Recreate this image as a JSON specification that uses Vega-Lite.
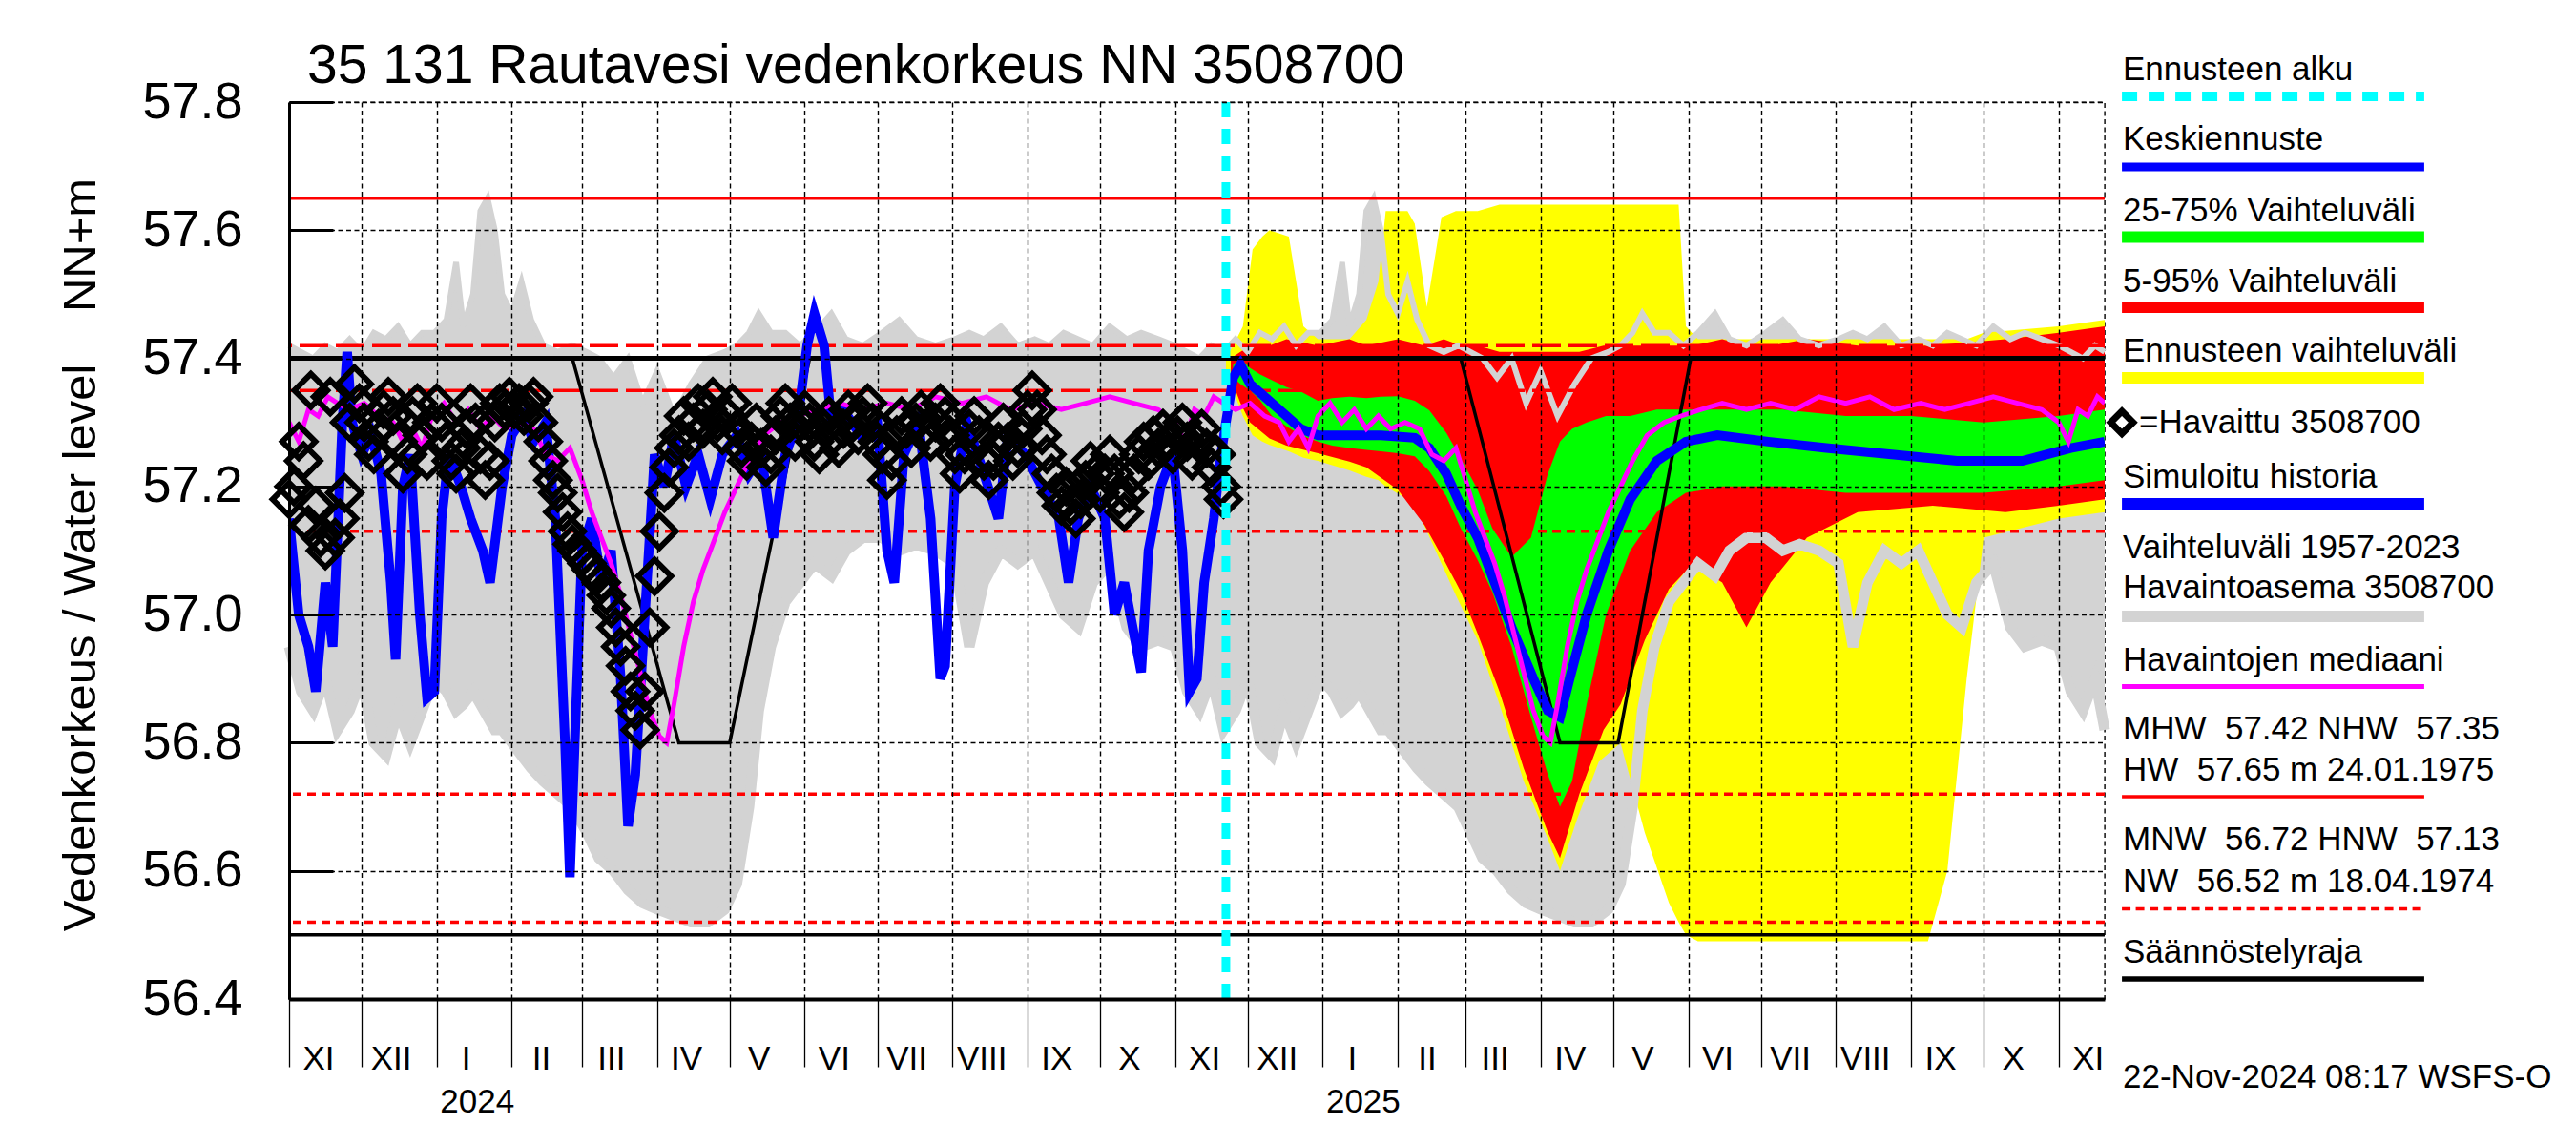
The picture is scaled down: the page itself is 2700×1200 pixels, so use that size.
{
"$schema": "https://vega.github.io/schema/vega-lite/v6.json",
"width": 1903, "height": 940,
"autosize": {"type": "none"},
"padding": {"left": 303, "top": 107, "right": 494, "bottom": 153},
"background": "white",
"title": {"text": "35 131 Rautavesi vedenkorkeus NN 3508700", "anchor": "start", "frame": "group", "fontSize": 57, "fontWeight": "normal", "dx": 19, "offset": -88, "baseline": "alphabetic", "color": "black"},
"config": {"font": "Liberation Sans", "view": {"stroke": "black", "strokeDash": [5, 3.5], "strokeWidth": 1.4}},
"datasets": {
"grey": [
{"d":"2023-11-01","lo":56.95,"hi":57.42},{"d":"2023-11-06","lo":56.88,"hi":57.41},{"d":"2023-11-11","lo":56.85,"hi":57.40},{"d":"2023-11-16","lo":56.90,"hi":57.42},{"d":"2023-11-21","lo":56.82,"hi":57.41},{"d":"2023-11-26","lo":56.85,"hi":57.43},
{"d":"2023-12-01","lo":56.90,"hi":57.41},{"d":"2023-12-06","lo":56.80,"hi":57.44},{"d":"2023-12-11","lo":56.78,"hi":57.43},{"d":"2023-12-16","lo":56.85,"hi":57.45},{"d":"2023-12-21","lo":56.80,"hi":57.42},{"d":"2023-12-26","lo":56.85,"hi":57.44},{"d":"2023-12-31","lo":56.90,"hi":57.44},
{"d":"2024-01-05","lo":56.88,"hi":57.46},{"d":"2024-01-09","lo":56.85,"hi":57.55},{"d":"2024-01-12","lo":56.86,"hi":57.45},{"d":"2024-01-16","lo":56.88,"hi":57.50},{"d":"2024-01-19","lo":56.86,"hi":57.63},{"d":"2024-01-22","lo":56.84,"hi":57.65},{"d":"2024-01-25","lo":56.82,"hi":57.60},{"d":"2024-01-28","lo":56.82,"hi":57.50},
{"d":"2024-02-01","lo":56.80,"hi":57.47},{"d":"2024-02-05","lo":56.78,"hi":57.52},{"d":"2024-02-09","lo":56.76,"hi":57.46},{"d":"2024-02-14","lo":56.74,"hi":57.42},{"d":"2024-02-20","lo":56.72,"hi":57.41},{"d":"2024-02-26","lo":56.70,"hi":57.42},
{"d":"2024-03-03","lo":56.66,"hi":57.41},{"d":"2024-03-08","lo":56.62,"hi":57.40},{"d":"2024-03-14","lo":56.60,"hi":57.37},{"d":"2024-03-20","lo":56.57,"hi":57.40},{"d":"2024-03-26","lo":56.55,"hi":57.33},
{"d":"2024-04-01","lo":56.54,"hi":57.38},{"d":"2024-04-08","lo":56.53,"hi":57.31},{"d":"2024-04-15","lo":56.52,"hi":57.36},{"d":"2024-04-22","lo":56.52,"hi":57.40},{"d":"2024-04-29","lo":56.54,"hi":57.41},
{"d":"2024-05-04","lo":56.58,"hi":57.42},{"d":"2024-05-09","lo":56.70,"hi":57.44},{"d":"2024-05-13","lo":56.85,"hi":57.47},{"d":"2024-05-18","lo":56.95,"hi":57.44},{"d":"2024-05-24","lo":57.02,"hi":57.44},{"d":"2024-05-30","lo":57.05,"hi":57.42},
{"d":"2024-06-05","lo":57.08,"hi":57.44},{"d":"2024-06-12","lo":57.06,"hi":57.47},{"d":"2024-06-18","lo":57.10,"hi":57.43},{"d":"2024-06-25","lo":57.12,"hi":57.42},
{"d":"2024-07-03","lo":57.12,"hi":57.44},{"d":"2024-07-10","lo":57.10,"hi":57.46},{"d":"2024-07-17","lo":57.11,"hi":57.43},{"d":"2024-07-25","lo":57.10,"hi":57.42},
{"d":"2024-08-02","lo":57.08,"hi":57.43},{"d":"2024-08-08","lo":56.95,"hi":57.44},{"d":"2024-08-14","lo":57.05,"hi":57.43},{"d":"2024-08-21","lo":57.10,"hi":57.45},{"d":"2024-08-28","lo":57.08,"hi":57.42},
{"d":"2024-09-04","lo":57.10,"hi":57.43},{"d":"2024-09-10","lo":57.05,"hi":57.42},{"d":"2024-09-16","lo":57.00,"hi":57.44},{"d":"2024-09-22","lo":56.98,"hi":57.43},{"d":"2024-09-28","lo":57.05,"hi":57.42},
{"d":"2024-10-05","lo":57.08,"hi":57.45},{"d":"2024-10-12","lo":56.98,"hi":57.43},{"d":"2024-10-18","lo":56.95,"hi":57.44},{"d":"2024-10-25","lo":56.96,"hi":57.43},
{"d":"2024-11-01","lo":56.95,"hi":57.42},{"d":"2024-11-06","lo":56.88,"hi":57.41},{"d":"2024-11-11","lo":56.85,"hi":57.40},{"d":"2024-11-16","lo":56.90,"hi":57.42},{"d":"2024-11-21","lo":56.82,"hi":57.41},{"d":"2024-11-26","lo":56.85,"hi":57.43},
{"d":"2024-12-01","lo":56.90,"hi":57.41},{"d":"2024-12-06","lo":56.80,"hi":57.44},{"d":"2024-12-11","lo":56.78,"hi":57.43},{"d":"2024-12-16","lo":56.85,"hi":57.45},{"d":"2024-12-21","lo":56.80,"hi":57.42},{"d":"2024-12-26","lo":56.85,"hi":57.44},{"d":"2024-12-31","lo":56.90,"hi":57.44},
{"d":"2025-01-05","lo":56.88,"hi":57.46},{"d":"2025-01-09","lo":56.85,"hi":57.55},{"d":"2025-01-12","lo":56.86,"hi":57.45},{"d":"2025-01-16","lo":56.88,"hi":57.50},{"d":"2025-01-19","lo":56.86,"hi":57.63},{"d":"2025-01-22","lo":56.84,"hi":57.65},{"d":"2025-01-25","lo":56.82,"hi":57.60},{"d":"2025-01-28","lo":56.82,"hi":57.50},
{"d":"2025-02-01","lo":56.80,"hi":57.47},{"d":"2025-02-05","lo":56.78,"hi":57.52},{"d":"2025-02-09","lo":56.76,"hi":57.46},{"d":"2025-02-14","lo":56.74,"hi":57.42},{"d":"2025-02-20","lo":56.72,"hi":57.41},{"d":"2025-02-26","lo":56.70,"hi":57.42},
{"d":"2025-03-03","lo":56.66,"hi":57.41},{"d":"2025-03-08","lo":56.62,"hi":57.40},{"d":"2025-03-14","lo":56.60,"hi":57.37},{"d":"2025-03-20","lo":56.57,"hi":57.40},{"d":"2025-03-26","lo":56.55,"hi":57.33},
{"d":"2025-04-01","lo":56.54,"hi":57.38},{"d":"2025-04-08","lo":56.53,"hi":57.31},{"d":"2025-04-15","lo":56.52,"hi":57.36},{"d":"2025-04-22","lo":56.52,"hi":57.40},{"d":"2025-04-29","lo":56.54,"hi":57.41},
{"d":"2025-05-04","lo":56.58,"hi":57.42},{"d":"2025-05-09","lo":56.70,"hi":57.44},{"d":"2025-05-13","lo":56.85,"hi":57.47},{"d":"2025-05-18","lo":56.95,"hi":57.44},{"d":"2025-05-24","lo":57.02,"hi":57.44},{"d":"2025-05-30","lo":57.05,"hi":57.42},
{"d":"2025-06-05","lo":57.08,"hi":57.44},{"d":"2025-06-12","lo":57.06,"hi":57.47},{"d":"2025-06-18","lo":57.10,"hi":57.43},{"d":"2025-06-25","lo":57.12,"hi":57.42},
{"d":"2025-07-03","lo":57.12,"hi":57.44},{"d":"2025-07-10","lo":57.10,"hi":57.46},{"d":"2025-07-17","lo":57.11,"hi":57.43},{"d":"2025-07-25","lo":57.10,"hi":57.42},
{"d":"2025-08-02","lo":57.08,"hi":57.43},{"d":"2025-08-08","lo":56.95,"hi":57.44},{"d":"2025-08-14","lo":57.05,"hi":57.43},{"d":"2025-08-21","lo":57.10,"hi":57.45},{"d":"2025-08-28","lo":57.08,"hi":57.42},
{"d":"2025-09-04","lo":57.10,"hi":57.43},{"d":"2025-09-10","lo":57.05,"hi":57.42},{"d":"2025-09-16","lo":57.00,"hi":57.44},{"d":"2025-09-22","lo":56.98,"hi":57.43},{"d":"2025-09-28","lo":57.05,"hi":57.42},
{"d":"2025-10-05","lo":57.08,"hi":57.45},{"d":"2025-10-12","lo":56.98,"hi":57.43},{"d":"2025-10-18","lo":56.95,"hi":57.44},{"d":"2025-10-25","lo":56.96,"hi":57.43},
{"d":"2025-11-01","lo":56.95,"hi":57.42},{"d":"2025-11-06","lo":56.88,"hi":57.41},{"d":"2025-11-11","lo":56.85,"hi":57.40},{"d":"2025-11-16","lo":56.90,"hi":57.42},{"d":"2025-11-20","lo":56.82,"hi":57.41}
],
"yellow": [
{"d":"2024-11-22","lo":57.38,"hi":57.40},{"d":"2024-11-25","lo":57.35,"hi":57.42},{"d":"2024-11-29","lo":57.31,"hi":57.45},{"d":"2024-12-03","lo":57.28,"hi":57.57},{"d":"2024-12-07","lo":57.27,"hi":57.59},{"d":"2024-12-10","lo":57.265,"hi":57.60},{"d":"2024-12-18","lo":57.255,"hi":57.59},{"d":"2024-12-24","lo":57.245,"hi":57.45},{"d":"2024-12-30","lo":57.24,"hi":57.43},
{"d":"2025-01-12","lo":57.225,"hi":57.43},{"d":"2025-01-19","lo":57.215,"hi":57.46},{"d":"2025-01-24","lo":57.21,"hi":57.52},{"d":"2025-01-27","lo":57.20,"hi":57.63},{"d":"2025-02-05","lo":57.18,"hi":57.63},{"d":"2025-02-08","lo":57.17,"hi":57.61},{"d":"2025-02-13","lo":57.13,"hi":57.48},{"d":"2025-02-19","lo":57.08,"hi":57.62},{"d":"2025-02-25","lo":57.03,"hi":57.63},
{"d":"2025-03-06","lo":56.96,"hi":57.63},{"d":"2025-03-15","lo":56.86,"hi":57.64},{"d":"2025-03-25","lo":56.74,"hi":57.64},{"d":"2025-04-04","lo":56.65,"hi":57.64},{"d":"2025-04-09","lo":56.60,"hi":57.64},{"d":"2025-04-16","lo":56.68,"hi":57.64},{"d":"2025-04-25","lo":56.77,"hi":57.64},{"d":"2025-05-04","lo":56.80,"hi":57.64},{"d":"2025-05-14","lo":56.66,"hi":57.64},{"d":"2025-05-24","lo":56.55,"hi":57.64},{"d":"2025-05-28","lo":56.52,"hi":57.64},{"d":"2025-05-31","lo":56.50,"hi":57.45},{"d":"2025-06-05","lo":56.49,"hi":57.43},
{"d":"2025-09-08","lo":56.49,"hi":57.43},{"d":"2025-09-16","lo":56.60,"hi":57.43},{"d":"2025-09-24","lo":56.90,"hi":57.43},{"d":"2025-10-01","lo":57.12,"hi":57.44},{"d":"2025-11-01","lo":57.15,"hi":57.45},{"d":"2025-11-20","lo":57.16,"hi":57.46}
],
"red": [
{"d":"2024-11-24","lo":57.37,"hi":57.40},{"d":"2024-11-28","lo":57.33,"hi":57.41},{"d":"2024-12-02","lo":57.30,"hi":57.42},{"d":"2024-12-10","lo":57.275,"hi":57.42},{"d":"2024-12-17","lo":57.264,"hi":57.43},{"d":"2024-12-30","lo":57.252,"hi":57.42},
{"d":"2025-01-12","lo":57.239,"hi":57.43},{"d":"2025-01-19","lo":57.23,"hi":57.42},{"d":"2025-02-01","lo":57.195,"hi":57.43},{"d":"2025-02-12","lo":57.14,"hi":57.42},{"d":"2025-02-20","lo":57.086,"hi":57.43},{"d":"2025-02-27","lo":57.036,"hi":57.42},
{"d":"2025-03-06","lo":56.97,"hi":57.42},{"d":"2025-03-15","lo":56.88,"hi":57.41},{"d":"2025-03-25","lo":56.76,"hi":57.41},{"d":"2025-04-04","lo":56.66,"hi":57.41},{"d":"2025-04-09","lo":56.62,"hi":57.41},{"d":"2025-04-17","lo":56.72,"hi":57.41},{"d":"2025-04-27","lo":56.82,"hi":57.42},{"d":"2025-05-04","lo":56.86,"hi":57.42},
{"d":"2025-05-14","lo":56.96,"hi":57.42},{"d":"2025-05-24","lo":57.04,"hi":57.42},{"d":"2025-06-03","lo":57.08,"hi":57.42},{"d":"2025-06-15","lo":57.05,"hi":57.43},{"d":"2025-06-25","lo":56.98,"hi":57.42},{"d":"2025-07-05","lo":57.05,"hi":57.42},{"d":"2025-07-20","lo":57.12,"hi":57.43},
{"d":"2025-08-10","lo":57.16,"hi":57.42},{"d":"2025-09-10","lo":57.17,"hi":57.42},{"d":"2025-10-10","lo":57.16,"hi":57.43},{"d":"2025-11-01","lo":57.17,"hi":57.44},{"d":"2025-11-20","lo":57.18,"hi":57.45}
],
"green": [
{"d":"2024-11-25","lo":57.37,"hi":57.39},{"d":"2024-11-28","lo":57.36,"hi":57.40},{"d":"2024-12-02","lo":57.35,"hi":57.385},{"d":"2024-12-06","lo":57.335,"hi":57.375},{"d":"2024-12-11","lo":57.31,"hi":57.366},{"d":"2024-12-17","lo":57.294,"hi":57.355},{"d":"2024-12-23","lo":57.28,"hi":57.348},{"d":"2024-12-30","lo":57.27,"hi":57.334},
{"d":"2025-01-05","lo":57.264,"hi":57.338},{"d":"2025-01-12","lo":57.26,"hi":57.34},{"d":"2025-01-19","lo":57.257,"hi":57.338},{"d":"2025-01-25","lo":57.255,"hi":57.34},{"d":"2025-02-01","lo":57.252,"hi":57.341},{"d":"2025-02-08","lo":57.247,"hi":57.334},{"d":"2025-02-14","lo":57.224,"hi":57.319},{"d":"2025-02-21","lo":57.185,"hi":57.284},{"d":"2025-02-27","lo":57.135,"hi":57.244},
{"d":"2025-03-06","lo":57.085,"hi":57.195},{"d":"2025-03-12","lo":57.036,"hi":57.135},{"d":"2025-03-20","lo":56.95,"hi":57.09},{"d":"2025-03-28","lo":56.84,"hi":57.12},{"d":"2025-04-04","lo":56.75,"hi":57.22},{"d":"2025-04-09","lo":56.70,"hi":57.27},{"d":"2025-04-14","lo":56.74,"hi":57.29},{"d":"2025-04-20","lo":56.86,"hi":57.30},{"d":"2025-04-28","lo":57.00,"hi":57.31},
{"d":"2025-05-08","lo":57.10,"hi":57.31},{"d":"2025-05-19","lo":57.16,"hi":57.32},{"d":"2025-05-31","lo":57.19,"hi":57.32},{"d":"2025-06-15","lo":57.20,"hi":57.32},{"d":"2025-07-10","lo":57.20,"hi":57.32},{"d":"2025-08-05","lo":57.19,"hi":57.31},{"d":"2025-09-01","lo":57.19,"hi":57.31},{"d":"2025-10-01","lo":57.19,"hi":57.30},{"d":"2025-11-01","lo":57.20,"hi":57.31},{"d":"2025-11-20","lo":57.21,"hi":57.32}
],
"blue": [
{"d":"2023-11-01","v":57.15},{"d":"2023-11-05","v":57.00},{"d":"2023-11-09","v":56.95},{"d":"2023-11-12","v":56.88},{"d":"2023-11-16","v":57.05},{"d":"2023-11-19","v":56.95},{"d":"2023-11-23","v":57.30},{"d":"2023-11-25","v":57.41},{"d":"2023-11-27","v":57.30},
{"d":"2023-12-01","v":57.25},{"d":"2023-12-05","v":57.28},{"d":"2023-12-09","v":57.22},{"d":"2023-12-13","v":57.05},{"d":"2023-12-15","v":56.93},{"d":"2023-12-18","v":57.20},{"d":"2023-12-21","v":57.25},{"d":"2023-12-25","v":57.00},{"d":"2023-12-28","v":56.87},{"d":"2023-12-31","v":56.88},
{"d":"2024-01-03","v":57.15},{"d":"2024-01-06","v":57.25},{"d":"2024-01-11","v":57.20},{"d":"2024-01-15","v":57.15},{"d":"2024-01-20","v":57.10},{"d":"2024-01-23","v":57.05},{"d":"2024-01-28","v":57.20},
{"d":"2024-02-01","v":57.28},{"d":"2024-02-06","v":57.31},{"d":"2024-02-10","v":57.27},{"d":"2024-02-15","v":57.30},{"d":"2024-02-19","v":57.15},{"d":"2024-02-23","v":56.80},{"d":"2024-02-25","v":56.59},{"d":"2024-02-27","v":56.80},
{"d":"2024-03-01","v":57.10},{"d":"2024-03-05","v":57.15},{"d":"2024-03-09","v":57.05},{"d":"2024-03-13","v":57.10},{"d":"2024-03-17","v":56.90},{"d":"2024-03-20","v":56.67},{"d":"2024-03-23","v":56.75},{"d":"2024-03-27","v":57.00},{"d":"2024-03-31","v":57.25},
{"d":"2024-04-04","v":57.20},{"d":"2024-04-08","v":57.28},{"d":"2024-04-13","v":57.20},{"d":"2024-04-18","v":57.25},{"d":"2024-04-23","v":57.18},{"d":"2024-04-28","v":57.25},
{"d":"2024-05-04","v":57.28},{"d":"2024-05-09","v":57.22},{"d":"2024-05-14","v":57.25},{"d":"2024-05-19","v":57.12},{"d":"2024-05-24","v":57.25},{"d":"2024-05-29","v":57.30},
{"d":"2024-06-02","v":57.42},{"d":"2024-06-05","v":57.47},{"d":"2024-06-09","v":57.42},{"d":"2024-06-12","v":57.30},{"d":"2024-06-17","v":57.32},{"d":"2024-06-24","v":57.28},
{"d":"2024-07-01","v":57.30},{"d":"2024-07-05","v":57.10},{"d":"2024-07-08","v":57.05},{"d":"2024-07-12","v":57.25},{"d":"2024-07-18","v":57.30},{"d":"2024-07-23","v":57.15},{"d":"2024-07-27","v":56.90},{"d":"2024-07-29","v":56.92},
{"d":"2024-08-02","v":57.20},{"d":"2024-08-07","v":57.30},{"d":"2024-08-14","v":57.22},{"d":"2024-08-20","v":57.15},{"d":"2024-08-24","v":57.28},{"d":"2024-08-31","v":57.25},
{"d":"2024-09-07","v":57.20},{"d":"2024-09-14","v":57.15},{"d":"2024-09-18","v":57.05},{"d":"2024-09-22","v":57.15},{"d":"2024-09-27","v":57.20},
{"d":"2024-10-03","v":57.15},{"d":"2024-10-07","v":57.00},{"d":"2024-10-11","v":57.05},{"d":"2024-10-16","v":56.95},{"d":"2024-10-18","v":56.91},{"d":"2024-10-21","v":57.10},{"d":"2024-10-26","v":57.20},{"d":"2024-10-31","v":57.25},
{"d":"2024-11-04","v":57.10},{"d":"2024-11-07","v":56.88},{"d":"2024-11-10","v":56.90},{"d":"2024-11-13","v":57.05},{"d":"2024-11-17","v":57.15},{"d":"2024-11-20","v":57.25},{"d":"2024-11-22","v":57.30},{"d":"2024-11-25","v":57.37},{"d":"2024-11-28","v":57.39},
{"d":"2024-12-02","v":57.36},{"d":"2024-12-11","v":57.33},{"d":"2024-12-17","v":57.31},{"d":"2024-12-23","v":57.29},{"d":"2024-12-30","v":57.28},
{"d":"2025-01-12","v":57.28},{"d":"2025-01-25","v":57.28},{"d":"2025-02-08","v":57.276},{"d":"2025-02-14","v":57.26},{"d":"2025-02-21","v":57.22},{"d":"2025-02-27","v":57.17},
{"d":"2025-03-06","v":57.12},{"d":"2025-03-12","v":57.06},{"d":"2025-03-20","v":56.98},{"d":"2025-03-29","v":56.90},{"d":"2025-04-04","v":56.85},{"d":"2025-04-09","v":56.84},{"d":"2025-04-13","v":56.90},{"d":"2025-04-20","v":57.00},{"d":"2025-04-29","v":57.10},
{"d":"2025-05-08","v":57.18},{"d":"2025-05-19","v":57.24},{"d":"2025-05-31","v":57.27},{"d":"2025-06-13","v":57.28},{"d":"2025-07-04","v":57.27},{"d":"2025-07-28","v":57.26},{"d":"2025-08-24","v":57.25},{"d":"2025-09-20","v":57.24},{"d":"2025-10-17","v":57.24},{"d":"2025-11-06","v":57.26},{"d":"2025-11-20","v":57.27}
],
"magenta": [
{"d":"2023-11-01","v":57.30},{"d":"2023-11-05","v":57.27},{"d":"2023-11-09","v":57.32},{"d":"2023-11-13","v":57.31},{"d":"2023-11-17","v":57.34},{"d":"2023-11-21","v":57.33},{"d":"2023-11-26","v":57.32},
{"d":"2023-12-02","v":57.33},{"d":"2023-12-08","v":57.31},{"d":"2023-12-14","v":57.30},{"d":"2023-12-18","v":57.27},{"d":"2023-12-22","v":57.29},{"d":"2023-12-26","v":57.26},{"d":"2023-12-30","v":57.31},
{"d":"2024-01-04","v":57.33},{"d":"2024-01-09","v":57.30},{"d":"2024-01-14","v":57.32},{"d":"2024-01-19","v":57.29},{"d":"2024-01-24","v":57.31},{"d":"2024-01-29","v":57.29},
{"d":"2024-02-04","v":57.30},{"d":"2024-02-10","v":57.29},{"d":"2024-02-15","v":57.25},{"d":"2024-02-20","v":57.24},{"d":"2024-02-25","v":57.26},
{"d":"2024-03-01","v":57.21},{"d":"2024-03-05","v":57.16},{"d":"2024-03-09","v":57.12},{"d":"2024-03-13","v":57.08},{"d":"2024-03-17","v":57.03},{"d":"2024-03-21","v":56.97},{"d":"2024-03-25","v":56.91},{"d":"2024-03-29","v":56.85},
{"d":"2024-04-02","v":56.81},{"d":"2024-04-05","v":56.80},{"d":"2024-04-08","v":56.86},{"d":"2024-04-12","v":56.95},{"d":"2024-04-16","v":57.02},{"d":"2024-04-20","v":57.07},{"d":"2024-04-24","v":57.11},{"d":"2024-04-29","v":57.16},
{"d":"2024-05-04","v":57.20},{"d":"2024-05-09","v":57.24},{"d":"2024-05-15","v":57.28},{"d":"2024-05-22","v":57.30},{"d":"2024-05-29","v":57.31},
{"d":"2024-06-06","v":57.32},{"d":"2024-06-15","v":57.33},{"d":"2024-06-25","v":57.32},{"d":"2024-07-05","v":57.33},{"d":"2024-07-15","v":57.32},{"d":"2024-07-25","v":57.34},
{"d":"2024-08-05","v":57.33},{"d":"2024-08-15","v":57.34},{"d":"2024-08-25","v":57.32},{"d":"2024-09-05","v":57.33},{"d":"2024-09-15","v":57.32},{"d":"2024-09-25","v":57.33},
{"d":"2024-10-05","v":57.34},{"d":"2024-10-15","v":57.33},{"d":"2024-10-25","v":57.32},
{"d":"2024-11-01","v":57.30},{"d":"2024-11-05","v":57.27},{"d":"2024-11-09","v":57.32},{"d":"2024-11-13","v":57.31},{"d":"2024-11-17","v":57.34},{"d":"2024-11-21","v":57.33},{"d":"2024-11-26","v":57.32},
{"d":"2024-12-02","v":57.33},{"d":"2024-12-08","v":57.31},{"d":"2024-12-14","v":57.30},{"d":"2024-12-18","v":57.27},{"d":"2024-12-22","v":57.29},{"d":"2024-12-26","v":57.26},{"d":"2024-12-30","v":57.31},
{"d":"2025-01-04","v":57.33},{"d":"2025-01-09","v":57.30},{"d":"2025-01-14","v":57.32},{"d":"2025-01-19","v":57.29},{"d":"2025-01-24","v":57.31},{"d":"2025-01-29","v":57.29},
{"d":"2025-02-04","v":57.30},{"d":"2025-02-10","v":57.29},{"d":"2025-02-15","v":57.25},{"d":"2025-02-20","v":57.24},{"d":"2025-02-25","v":57.26},
{"d":"2025-03-01","v":57.21},{"d":"2025-03-05","v":57.16},{"d":"2025-03-09","v":57.12},{"d":"2025-03-13","v":57.08},{"d":"2025-03-17","v":57.03},{"d":"2025-03-21","v":56.97},{"d":"2025-03-25","v":56.91},{"d":"2025-03-29","v":56.85},
{"d":"2025-04-02","v":56.81},{"d":"2025-04-05","v":56.80},{"d":"2025-04-08","v":56.86},{"d":"2025-04-12","v":56.95},{"d":"2025-04-16","v":57.02},{"d":"2025-04-20","v":57.07},{"d":"2025-04-24","v":57.11},{"d":"2025-04-29","v":57.16},
{"d":"2025-05-04","v":57.20},{"d":"2025-05-09","v":57.24},{"d":"2025-05-15","v":57.28},{"d":"2025-05-22","v":57.30},{"d":"2025-05-29","v":57.31},
{"d":"2025-06-06","v":57.32},{"d":"2025-06-15","v":57.33},{"d":"2025-06-25","v":57.32},{"d":"2025-07-05","v":57.33},{"d":"2025-07-15","v":57.32},{"d":"2025-07-25","v":57.34},
{"d":"2025-08-05","v":57.33},{"d":"2025-08-15","v":57.34},{"d":"2025-08-25","v":57.32},{"d":"2025-09-05","v":57.33},{"d":"2025-09-15","v":57.32},{"d":"2025-09-25","v":57.33},
{"d":"2025-10-05","v":57.34},{"d":"2025-10-15","v":57.33},{"d":"2025-10-25","v":57.32},{"d":"2025-11-01","v":57.30},{"d":"2025-11-05","v":57.27},{"d":"2025-11-09","v":57.32},{"d":"2025-11-13","v":57.31},{"d":"2025-11-17","v":57.34},{"d":"2025-11-20","v":57.33}
],
"obs": [
{"d":"2023-11-01","v":57.18},{"d":"2023-11-03","v":57.20},{"d":"2023-11-05","v":57.27},{"d":"2023-11-07","v":57.24},{"d":"2023-11-09","v":57.14},{"d":"2023-11-10","v":57.35},{"d":"2023-11-12","v":57.17},{"d":"2023-11-14","v":57.12},{"d":"2023-11-16","v":57.10},{"d":"2023-11-18","v":57.34},{"d":"2023-11-20","v":57.12},{"d":"2023-11-22","v":57.15},{"d":"2023-11-24","v":57.19},{"d":"2023-11-26","v":57.30},{"d":"2023-11-28","v":57.36},{"d":"2023-11-30","v":57.33},
{"d":"2023-12-02","v":57.30},{"d":"2023-12-04","v":57.27},{"d":"2023-12-06","v":57.25},{"d":"2023-12-08","v":57.29},{"d":"2023-12-10","v":57.32},{"d":"2023-12-12","v":57.34},{"d":"2023-12-14","v":57.31},{"d":"2023-12-16","v":57.27},{"d":"2023-12-18","v":57.22},{"d":"2023-12-20","v":57.25},{"d":"2023-12-22","v":57.31},{"d":"2023-12-24","v":57.33},{"d":"2023-12-26","v":57.28},{"d":"2023-12-28","v":57.24},{"d":"2023-12-30","v":57.30},
{"d":"2024-01-01","v":57.33},{"d":"2024-01-03","v":57.30},{"d":"2024-01-05","v":57.27},{"d":"2024-01-07","v":57.24},{"d":"2024-01-09","v":57.22},{"d":"2024-01-11","v":57.26},{"d":"2024-01-13","v":57.29},{"d":"2024-01-15","v":57.33},{"d":"2024-01-17","v":57.30},{"d":"2024-01-19","v":57.25},{"d":"2024-01-21","v":57.21},{"d":"2024-01-23","v":57.24},{"d":"2024-01-25","v":57.30},{"d":"2024-01-27","v":57.33},{"d":"2024-01-29","v":57.32},{"d":"2024-01-31","v":57.34},
{"d":"2024-02-02","v":57.32},{"d":"2024-02-04","v":57.33},{"d":"2024-02-06","v":57.31},{"d":"2024-02-08","v":57.33},{"d":"2024-02-10","v":57.34},{"d":"2024-02-12","v":57.30},{"d":"2024-02-14","v":57.27},{"d":"2024-02-16","v":57.24},{"d":"2024-02-18","v":57.21},{"d":"2024-02-20","v":57.19},{"d":"2024-02-22","v":57.16},{"d":"2024-02-24","v":57.13},{"d":"2024-02-26","v":57.11},{"d":"2024-02-28","v":57.10},
{"d":"2024-03-01","v":57.09},{"d":"2024-03-03","v":57.08},{"d":"2024-03-05","v":57.07},{"d":"2024-03-07","v":57.06},{"d":"2024-03-09","v":57.05},{"d":"2024-03-11","v":57.03},{"d":"2024-03-13","v":57.01},{"d":"2024-03-15","v":56.98},{"d":"2024-03-17","v":56.95},{"d":"2024-03-19","v":56.92},{"d":"2024-03-21","v":56.88},{"d":"2024-03-23","v":56.85},{"d":"2024-03-25","v":56.82},{"d":"2024-03-27","v":56.88},{"d":"2024-03-29","v":56.98},{"d":"2024-03-31","v":57.06},
{"d":"2024-04-02","v":57.13},{"d":"2024-04-04","v":57.19},{"d":"2024-04-06","v":57.23},{"d":"2024-04-08","v":57.26},{"d":"2024-04-10","v":57.28},{"d":"2024-04-12","v":57.31},{"d":"2024-04-14","v":57.27},{"d":"2024-04-16","v":57.30},{"d":"2024-04-18","v":57.33},{"d":"2024-04-20","v":57.29},{"d":"2024-04-22","v":57.32},{"d":"2024-04-24","v":57.34},{"d":"2024-04-26","v":57.30},{"d":"2024-04-28","v":57.28},{"d":"2024-04-30","v":57.31},
{"d":"2024-05-02","v":57.33},{"d":"2024-05-04","v":57.29},{"d":"2024-05-06","v":57.26},{"d":"2024-05-08","v":57.24},{"d":"2024-05-10","v":57.27},{"d":"2024-05-12","v":57.30},{"d":"2024-05-14","v":57.26},{"d":"2024-05-16","v":57.23},{"d":"2024-05-18","v":57.25},{"d":"2024-05-20","v":57.28},{"d":"2024-05-22","v":57.31},{"d":"2024-05-24","v":57.33},{"d":"2024-05-26","v":57.30},{"d":"2024-05-28","v":57.27},{"d":"2024-05-30","v":57.30},
{"d":"2024-06-01","v":57.32},{"d":"2024-06-03","v":57.30},{"d":"2024-06-05","v":57.27},{"d":"2024-06-07","v":57.25},{"d":"2024-06-09","v":57.29},{"d":"2024-06-11","v":57.31},{"d":"2024-06-13","v":57.28},{"d":"2024-06-15","v":57.26},{"d":"2024-06-17","v":57.29},{"d":"2024-06-19","v":57.32},{"d":"2024-06-21","v":57.30},{"d":"2024-06-23","v":57.28},{"d":"2024-06-25","v":57.31},{"d":"2024-06-27","v":57.33},{"d":"2024-06-29","v":57.30},
{"d":"2024-07-01","v":57.27},{"d":"2024-07-03","v":57.25},{"d":"2024-07-05","v":57.21},{"d":"2024-07-07","v":57.24},{"d":"2024-07-09","v":57.28},{"d":"2024-07-11","v":57.31},{"d":"2024-07-13","v":57.29},{"d":"2024-07-15","v":57.26},{"d":"2024-07-17","v":57.30},{"d":"2024-07-19","v":57.32},{"d":"2024-07-21","v":57.29},{"d":"2024-07-23","v":57.27},{"d":"2024-07-25","v":57.30},{"d":"2024-07-27","v":57.33},{"d":"2024-07-29","v":57.31},{"d":"2024-07-31","v":57.28},
{"d":"2024-08-02","v":57.25},{"d":"2024-08-04","v":57.22},{"d":"2024-08-06","v":57.25},{"d":"2024-08-08","v":57.29},{"d":"2024-08-10","v":57.31},{"d":"2024-08-12","v":57.28},{"d":"2024-08-14","v":57.24},{"d":"2024-08-16","v":57.21},{"d":"2024-08-18","v":57.24},{"d":"2024-08-20","v":57.27},{"d":"2024-08-22","v":57.30},{"d":"2024-08-24","v":57.27},{"d":"2024-08-26","v":57.24},{"d":"2024-08-28","v":57.26},{"d":"2024-08-30","v":57.29},
{"d":"2024-09-01","v":57.32},{"d":"2024-09-03","v":57.35},{"d":"2024-09-05","v":57.32},{"d":"2024-09-07","v":57.28},{"d":"2024-09-09","v":57.25},{"d":"2024-09-11","v":57.22},{"d":"2024-09-13","v":57.19},{"d":"2024-09-15","v":57.17},{"d":"2024-09-17","v":57.20},{"d":"2024-09-19","v":57.17},{"d":"2024-09-21","v":57.15},{"d":"2024-09-23","v":57.18},{"d":"2024-09-25","v":57.21},{"d":"2024-09-27","v":57.24},{"d":"2024-09-29","v":57.22},
{"d":"2024-10-01","v":57.19},{"d":"2024-10-03","v":57.22},{"d":"2024-10-05","v":57.25},{"d":"2024-10-07","v":57.22},{"d":"2024-10-09","v":57.18},{"d":"2024-10-11","v":57.16},{"d":"2024-10-13","v":57.19},{"d":"2024-10-15","v":57.22},{"d":"2024-10-17","v":57.25},{"d":"2024-10-19","v":57.27},{"d":"2024-10-21","v":57.24},{"d":"2024-10-23","v":57.28},{"d":"2024-10-25","v":57.26},{"d":"2024-10-27","v":57.29},{"d":"2024-10-29","v":57.27},{"d":"2024-10-31","v":57.25},
{"d":"2024-11-02","v":57.28},{"d":"2024-11-04","v":57.30},{"d":"2024-11-06","v":57.27},{"d":"2024-11-08","v":57.24},{"d":"2024-11-10","v":57.27},{"d":"2024-11-12","v":57.29},{"d":"2024-11-14","v":57.26},{"d":"2024-11-16","v":57.23},{"d":"2024-11-18","v":57.25},{"d":"2024-11-20","v":57.20},{"d":"2024-11-21","v":57.18}
],
"reg": [
{"seg":"top","d":"2023-11-01","v":57.40},{"seg":"top","d":"2025-11-20","v":57.40},
{"seg":"bottom","d":"2023-11-01","v":56.50},{"seg":"bottom","d":"2025-11-20","v":56.50},
{"seg":"t2024","d":"2024-02-26","v":57.40},{"seg":"t2024","d":"2024-04-10","v":56.80},{"seg":"t2024","d":"2024-05-01","v":56.80},{"seg":"t2024","d":"2024-06-03","v":57.40},
{"seg":"t2025","d":"2025-02-27","v":57.40},{"seg":"t2025","d":"2025-04-09","v":56.80},{"seg":"t2025","d":"2025-05-03","v":56.80},{"seg":"t2025","d":"2025-06-02","v":57.40}
],
"refs": [
{"name":"HW","v":57.65},{"name":"MHW","v":57.42},{"name":"NHW","v":57.35},{"name":"HNW","v":57.13},{"name":"MNW","v":56.72},{"name":"NW","v":56.52}
],
"fc": [{"d":"2024-11-22"}],
"legendText": [
{"label":"Ennusteen alku","pos":57.8343},
{"label":"Keskiennuste","pos":57.7255},
{"label":"25-75% Vaihteluväli","pos":57.6138},
{"label":"5-95% Vaihteluväli","pos":57.5036},
{"label":"Ennusteen vaihteluväli","pos":57.3949},
{"label":"Simuloitu historia","pos":57.1983},
{"label":"Vaihteluväli 1957-2023","pos":57.0881},
{"label":"\u00a0Havaintoasema 3508700","pos":57.0255},
{"label":"Havaintojen mediaani","pos":56.9123},
{"label":"MHW\u00a0 57.42 NHW\u00a0 57.35","pos":56.8051},
{"label":"HW\u00a0 57.65 m 24.01.1975","pos":56.7411},
{"label":"MNW\u00a0 56.72 HNW\u00a0 57.13","pos":56.6323},
{"label":"NW\u00a0 56.52 m 18.04.1974","pos":56.5668},
{"label":"Säännöstelyraja","pos":56.4566},
{"label":"22-Nov-2024 08:17 WSFS-O","pos":56.2615}
],
"legendBands": [
{"item":"25-75%","pos":57.5893},{"item":"5-95%","pos":57.4798},{"item":"Ennuste","pos":57.3696},{"item":"Simuloitu","pos":57.1730},{"item":"Vaihteluväli","pos":56.9972}
],
"legendOther": [
{"item":"Ennusteen alku","pos":57.8089},{"item":"Keskiennuste","pos":57.6987},{"item":"Mediaani","pos":56.8878},{"item":"HW","pos":56.7157},{"item":"NW","pos":56.5407},{"item":"Säännöstelyraja","pos":56.4313},{"item":"Havaittu","pos":57.2999},{"item":"HavaittuText","pos":57.2832}
]
},
"layer": [
{
"layer": [
{"data": {"name": "grey"}, "mark": {"type": "area", "color": "#d3d3d3"},
 "encoding": {
  "x": {"field": "d", "type": "temporal", "scale": {"type": "utc", "domain": [{"year":2023,"month":11,"date":1,"utc":true},{"year":2025,"month":11,"date":20,"utc":true}], "nice": false},
   "axis": {"orient": "bottom", "tickCount": {"interval": "month", "step": 1}, "labels": false, "ticks": true, "tickSize": 71, "tickWidth": 1.3, "tickColor": "black", "domain": true, "domainColor": "black", "domainWidth": 4, "grid": true, "gridColor": "black", "gridDash": [5, 3.5], "gridWidth": 1.4, "gridOpacity": 1, "title": null, "zindex": 1}},
  "y": {"field": "lo", "type": "quantitative", "scale": {"domain": [56.4, 57.8], "nice": false, "zero": false},
   "axis": {"orient": "left", "values": [56.4, 56.6, 56.8, 57.0, 57.2, 57.4, 57.6, 57.8], "format": ".1f", "labelFontSize": 54, "labelColor": "black", "labelPadding": 49, "ticks": false, "domain": true, "domainColor": "black", "domainWidth": 3, "grid": true, "gridColor": "black", "gridDash": [5, 3.5], "gridWidth": 1.4, "gridOpacity": 1, "labelFlush": false, "labelOverlap": false, "labelBound": false,
    "title": "Vedenkorkeus / Water level\u00a0\u00a0\u00a0\u00a0NN+m", "titleFontSize": 49, "titleFontWeight": "normal", "titleColor": "black", "titleAngle": 270, "titleX": -204, "titleY": 474, "titleAlign": "center", "titleBaseline": "alphabetic", "zindex": 1}},
  "y2": {"field": "hi"}
 }},
{"data": {"name": "yellow"}, "mark": {"type": "area", "color": "#ffff00"},
 "encoding": {
  "x": {"field": "d", "type": "temporal", "scale": {"type": "utc", "domain": [{"year":2023,"month":11,"date":1,"utc":true},{"year":2025,"month":11,"date":20,"utc":true}], "nice": false},
   "axis": {"orient": "bottom", "values": [{"year":2023,"month":11,"date":13,"utc":true},{"year":2023,"month":12,"date":13,"utc":true},{"year":2024,"month":1,"date":13,"utc":true},{"year":2024,"month":2,"date":13,"utc":true},{"year":2024,"month":3,"date":13,"utc":true},{"year":2024,"month":4,"date":13,"utc":true},{"year":2024,"month":5,"date":13,"utc":true},{"year":2024,"month":6,"date":13,"utc":true},{"year":2024,"month":7,"date":13,"utc":true},{"year":2024,"month":8,"date":13,"utc":true},{"year":2024,"month":9,"date":13,"utc":true},{"year":2024,"month":10,"date":13,"utc":true},{"year":2024,"month":11,"date":13,"utc":true},{"year":2024,"month":12,"date":13,"utc":true},{"year":2025,"month":1,"date":13,"utc":true},{"year":2025,"month":2,"date":13,"utc":true},{"year":2025,"month":3,"date":13,"utc":true},{"year":2025,"month":4,"date":13,"utc":true},{"year":2025,"month":5,"date":13,"utc":true},{"year":2025,"month":6,"date":13,"utc":true},{"year":2025,"month":7,"date":13,"utc":true},{"year":2025,"month":8,"date":13,"utc":true},{"year":2025,"month":9,"date":13,"utc":true},{"year":2025,"month":10,"date":13,"utc":true},{"year":2025,"month":11,"date":13,"utc":true}],
    "labelExpr": "['I','II','III','IV','V','VI','VII','VIII','IX','X','XI','XII'][utcmonth(datum.value)]",
    "ticks": false, "domain": false, "grid": false, "labelFontSize": 35, "labelColor": "black", "labelPadding": 73, "labelBaseline": "alphabetic", "labelAlign": "center", "labelFlush": false, "labelOverlap": false, "labelBound": false, "title": null}},
  "y": {"field": "lo", "type": "quantitative", "scale": {"domain": [56.4, 57.8], "nice": false, "zero": false},
   "axis": {"orient": "left", "offset": -46, "values": [56.4, 56.6, 56.8, 57.0, 57.2, 57.4, 57.6, 57.8], "labels": false, "ticks": true, "tickSize": 46, "tickWidth": 3, "tickColor": "black", "domain": false, "grid": false, "title": null, "zindex": 1}},
  "y2": {"field": "hi"}
 }},
{"data": {"name": "red"}, "mark": {"type": "area", "color": "#ff0000"},
 "encoding": {
  "x": {"field": "d", "type": "temporal", "scale": {"type": "utc", "domain": [{"year":2023,"month":11,"date":1,"utc":true},{"year":2025,"month":11,"date":20,"utc":true}], "nice": false},
   "axis": {"orient": "bottom", "values": [{"year":2024,"month":1,"date":1,"utc":true},{"year":2025,"month":1,"date":1,"utc":true}], "labelExpr": "utcFormat(datum.value, '%Y')", "ticks": false, "domain": false, "grid": false, "labelFontSize": 35, "labelColor": "black", "labelPadding": 118, "labelBaseline": "alphabetic", "labelAlign": "left", "labelOffset": 3, "labelFlush": false, "labelOverlap": false, "labelBound": false, "title": null}},
  "y": {"field": "lo", "type": "quantitative", "axis": null, "title": null},
  "y2": {"field": "hi"}
 }},
{"data": {"name": "green"}, "mark": {"type": "area", "color": "#00ff00"},
 "encoding": {
  "x": {"field": "d", "type": "temporal", "axis": null, "title": null},
  "y": {"field": "lo", "type": "quantitative", "axis": null, "title": null},
  "y2": {"field": "hi"}
 }},
{"data": {"name": "grey"}, "mark": {"type": "line", "color": "#d3d3d3", "strokeWidth": 6},
 "encoding": {"x": {"field": "d", "type": "temporal", "axis": null, "title": null}, "y": {"field": "hi", "type": "quantitative", "axis": null, "title": null}}},
{"data": {"name": "grey"}, "mark": {"type": "line", "color": "#d3d3d3", "strokeWidth": 11},
 "encoding": {"x": {"field": "d", "type": "temporal", "axis": null, "title": null}, "y": {"field": "lo", "type": "quantitative", "axis": null, "title": null}}},
{"data": {"name": "refs"}, "transform": [{"filter": "datum.name == 'HW'"}], "mark": {"type": "rule", "color": "#ff0000", "strokeWidth": 3.5},
 "encoding": {"y": {"field": "v", "type": "quantitative", "axis": null, "title": null}}},
{"data": {"name": "refs"}, "transform": [{"filter": "datum.name == 'MHW' || datum.name == 'NHW'"}], "mark": {"type": "rule", "color": "#ff0000", "strokeWidth": 3.5, "strokeDash": [30, 8]},
 "encoding": {"y": {"field": "v", "type": "quantitative", "axis": null, "title": null}}},
{"data": {"name": "refs"}, "transform": [{"filter": "datum.name == 'HNW' || datum.name == 'MNW' || datum.name == 'NW'"}], "mark": {"type": "rule", "color": "#ff0000", "strokeWidth": 3.5, "strokeDash": [9, 6]},
 "encoding": {"y": {"field": "v", "type": "quantitative", "axis": null, "title": null}}},
{"data": {"name": "reg"}, "transform": [{"filter": "datum.seg == 'top'"}], "mark": {"type": "line", "color": "black", "strokeWidth": 5},
 "encoding": {"x": {"field": "d", "type": "temporal", "axis": null, "title": null}, "y": {"field": "v", "type": "quantitative", "axis": null, "title": null}}},
{"data": {"name": "reg"}, "transform": [{"filter": "datum.seg != 'top'"}], "mark": {"type": "line", "color": "black", "strokeWidth": 3.5},
 "encoding": {"x": {"field": "d", "type": "temporal", "axis": null, "title": null}, "y": {"field": "v", "type": "quantitative", "axis": null, "title": null}, "detail": {"field": "seg"}}},
{"data": {"name": "blue"}, "mark": {"type": "line", "color": "#0000ff", "strokeWidth": 10, "clip": true},
 "encoding": {"x": {"field": "d", "type": "temporal", "axis": null, "title": null}, "y": {"field": "v", "type": "quantitative", "axis": null, "title": null}}},
{"data": {"name": "magenta"}, "mark": {"type": "line", "color": "#ff00ff", "strokeWidth": 5, "clip": true},
 "encoding": {"x": {"field": "d", "type": "temporal", "axis": null, "title": null}, "y": {"field": "v", "type": "quantitative", "axis": null, "title": null}}},
{"data": {"name": "obs"}, "mark": {"type": "point", "shape": "diamond", "filled": false, "color": "black", "strokeWidth": 6, "size": 1200, "opacity": 1},
 "encoding": {"x": {"field": "d", "type": "temporal", "axis": null, "title": null}, "y": {"field": "v", "type": "quantitative", "axis": null, "title": null}}},
{"data": {"name": "fc"}, "mark": {"type": "rule", "color": "#00ffff", "strokeWidth": 9, "strokeDash": [16, 12]},
 "encoding": {"x": {"field": "d", "type": "temporal", "axis": null, "title": null}}}
],
"resolve": {"axis": {"x": "independent", "y": "independent"}}
},
{
"layer": [
{"data": {"name": "legendBands"}, "mark": {"type": "rule", "strokeWidth": 12},
 "encoding": {
  "x": {"datum": 1.0095, "type": "quantitative", "scale": {"domain": [0, 1], "nice": false, "zero": false}, "axis": null},
  "x2": {"datum": 1.176},
  "y": {"field": "pos", "type": "quantitative", "scale": {"domain": [56.4, 57.8], "nice": false, "zero": false}, "axis": null},
  "color": {"field": "item", "type": "nominal", "scale": {"domain": ["25-75%", "5-95%", "Ennuste", "Simuloitu", "Vaihteluväli"], "range": ["#00ff00", "#ff0000", "#ffff00", "#0000ff", "#d3d3d3"]}, "legend": null}
 }},
{"data": {"name": "legendOther"}, "transform": [{"filter": "datum.item == 'Keskiennuste'"}], "mark": {"type": "rule", "strokeWidth": 9, "color": "#0000ff"},
 "encoding": {"x": {"datum": 1.0095, "type": "quantitative", "axis": null}, "x2": {"datum": 1.176}, "y": {"field": "pos", "type": "quantitative", "axis": null}}},
{"data": {"name": "legendOther"}, "transform": [{"filter": "datum.item == 'Ennusteen alku'"}], "mark": {"type": "rule", "strokeWidth": 10, "color": "#00ffff", "strokeDash": [16, 12]},
 "encoding": {"x": {"datum": 1.0095, "type": "quantitative", "axis": null}, "x2": {"datum": 1.176}, "y": {"field": "pos", "type": "quantitative", "axis": null}}},
{"data": {"name": "legendOther"}, "transform": [{"filter": "datum.item == 'Mediaani'"}], "mark": {"type": "rule", "strokeWidth": 5, "color": "#ff00ff"},
 "encoding": {"x": {"datum": 1.0095, "type": "quantitative", "axis": null}, "x2": {"datum": 1.176}, "y": {"field": "pos", "type": "quantitative", "axis": null}}},
{"data": {"name": "legendOther"}, "transform": [{"filter": "datum.item == 'HW'"}], "mark": {"type": "rule", "strokeWidth": 3.5, "color": "#ff0000"},
 "encoding": {"x": {"datum": 1.0095, "type": "quantitative", "axis": null}, "x2": {"datum": 1.176}, "y": {"field": "pos", "type": "quantitative", "axis": null}}},
{"data": {"name": "legendOther"}, "transform": [{"filter": "datum.item == 'NW'"}], "mark": {"type": "rule", "strokeWidth": 3.5, "color": "#ff0000", "strokeDash": [9, 5.5]},
 "encoding": {"x": {"datum": 1.0095, "type": "quantitative", "axis": null}, "x2": {"datum": 1.176}, "y": {"field": "pos", "type": "quantitative", "axis": null}}},
{"data": {"name": "legendOther"}, "transform": [{"filter": "datum.item == 'Säännöstelyraja'"}], "mark": {"type": "rule", "strokeWidth": 5.5, "color": "black"},
 "encoding": {"x": {"datum": 1.0095, "type": "quantitative", "axis": null}, "x2": {"datum": 1.176}, "y": {"field": "pos", "type": "quantitative", "axis": null}}},
{"data": {"name": "legendOther"}, "transform": [{"filter": "datum.item == 'Havaittu'"}], "mark": {"type": "point", "shape": "diamond", "filled": false, "color": "black", "strokeWidth": 7, "size": 550, "opacity": 1},
 "encoding": {"x": {"datum": 1.0095, "type": "quantitative", "axis": null}, "y": {"field": "pos", "type": "quantitative", "axis": null}}},
{"data": {"name": "legendOther"}, "transform": [{"filter": "datum.item == 'HavaittuText'"}], "mark": {"type": "text", "align": "left", "baseline": "alphabetic", "fontSize": 35, "color": "black", "text": "=Havaittu 3508700"},
 "encoding": {"x": {"datum": 1.0189, "type": "quantitative", "axis": null}, "y": {"field": "pos", "type": "quantitative", "axis": null}}},
{"data": {"name": "legendText"}, "mark": {"type": "text", "align": "left", "baseline": "alphabetic", "fontSize": 35, "color": "black"},
 "encoding": {"x": {"datum": 1.0100, "type": "quantitative", "axis": null}, "y": {"field": "pos", "type": "quantitative", "axis": null}, "text": {"field": "label"}}}
]
}
],
"resolve": {"scale": {"x": "independent"}, "axis": {"x": "independent"}}
}
